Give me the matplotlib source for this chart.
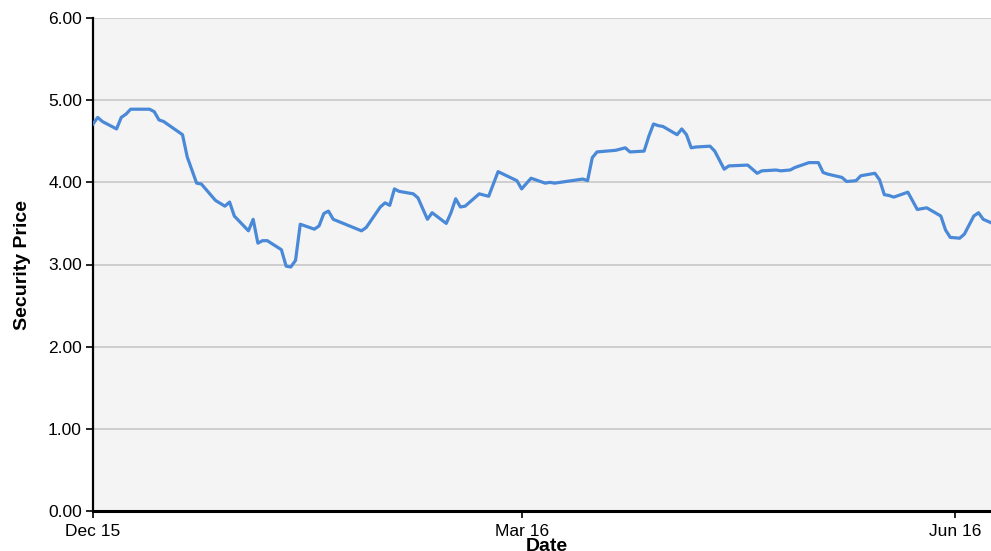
"""Security price line chart, Dec 2015 - Jun 2016."""
import matplotlib
matplotlib.use("Agg")
import matplotlib.pyplot as plt
import numpy as np
import pandas as pd

plt.rcParams["font.family"] = ["Liberation Sans", "DejaVu Sans"]

START = pd.Timestamp("2015-12-01")

# days after 1 Dec 2015
day_offsets = [
    0, 1, 2, 5, 6, 7, 8, 12, 13, 14, 15, 19, 20, 21, 22, 23, 26, 28, 29, 30,
    33, 34, 35, 36, 37, 40, 41, 42, 43, 44, 47, 48, 49, 50, 51, 57, 58, 61, 62, 63,
    64, 65, 68, 69, 71, 72, 75, 76, 77, 78, 79, 82, 84, 86, 90, 91, 93, 96, 97, 98,
    104, 105, 106, 107, 111, 113, 114, 117, 118, 119, 120, 121, 124, 125, 126, 127, 128, 131, 132, 134,
    135, 139, 141, 142, 145, 146, 148, 149, 152, 154, 155, 156, 159, 160, 162, 163, 166, 167, 168, 169,
    170, 173, 175, 177, 180, 181, 182, 184, 185, 187, 188, 189, 191,
]
prices = [
    4.71, 4.79, 4.74, 4.65, 4.79, 4.83, 4.89, 4.89, 4.86, 4.76, 4.74, 4.58, 4.31, 4.15, 3.99, 3.98, 3.78, 3.71, 3.76, 3.59,
    3.41, 3.55, 3.26, 3.29, 3.29, 3.18, 2.98, 2.97, 3.05, 3.49, 3.43, 3.47, 3.62, 3.65, 3.55, 3.41, 3.45, 3.70, 3.75, 3.72,
    3.92, 3.89, 3.86, 3.81, 3.55, 3.63, 3.50, 3.63, 3.80, 3.70, 3.71, 3.86, 3.83, 4.13, 4.02, 3.92, 4.05, 3.99, 4.00, 3.99,
    4.04, 4.02, 4.30, 4.37, 4.39, 4.42, 4.37, 4.38, 4.56, 4.71, 4.69, 4.68, 4.58, 4.65, 4.58, 4.42, 4.43, 4.44, 4.38, 4.16,
    4.20, 4.21, 4.11, 4.14, 4.15, 4.14, 4.15, 4.18, 4.24, 4.24, 4.12, 4.10, 4.06, 4.01, 4.02, 4.08, 4.11, 4.03, 3.85, 3.84,
    3.82, 3.88, 3.67, 3.69, 3.59, 3.42, 3.33, 3.32, 3.37, 3.59, 3.63, 3.55, 3.50,
]
y_ticks = [0, 1, 2, 3, 4, 5, 6]
x_tick_dates = ["2015-12-01", "2016-03-01", "2016-06-01"]
x_tick_labels = ["Dec 15", "Mar 16", "Jun 16"]

dates = START + pd.to_timedelta(day_offsets, unit="D")

W, H = 991, 551
fig = plt.figure(figsize=(W / 100, H / 100), dpi=100)
ax = fig.add_axes([93 / W, (H - 511) / H, 898 / W, (511 - 18) / H])
ax.set_facecolor("#f4f4f4")

ax.plot(dates, prices, color="#4a89d8", lw=2.3, zorder=3)

ax.set_ylim(0, 6)
ax.set_yticks(y_ticks)
ax.set_yticklabels([f"{v:.2f}" for v in y_ticks])
ax.yaxis.grid(True, color="#c8c8c8", lw=1.2, zorder=1)
ax.set_axisbelow(True)

ax.set_xlim(START, START + pd.Timedelta(days=190.65))
ax.set_xticks(pd.to_datetime(x_tick_dates))
ax.set_xticklabels(x_tick_labels)

for s in ("top", "right"):
    ax.spines[s].set_visible(False)
ax.spines["left"].set_linewidth(1.6)
ax.spines["bottom"].set_linewidth(2.2)
ax.tick_params(axis="both", direction="out", length=5, width=1.2, labelsize=12.5, colors="black")
ax.tick_params(axis="y", pad=3)
ax.tick_params(axis="x", pad=4)

# the reference puts "Date" right on top of the middle tick label
ax.set_ylabel("Security Price", fontsize=14, fontweight="bold", labelpad=12)
ax.set_xlabel("Date", fontsize=14, fontweight="bold")
ax.xaxis.set_label_coords(0.5056, -0.055)

fig.savefig("out.png", dpi=100)
plt.close(fig)
